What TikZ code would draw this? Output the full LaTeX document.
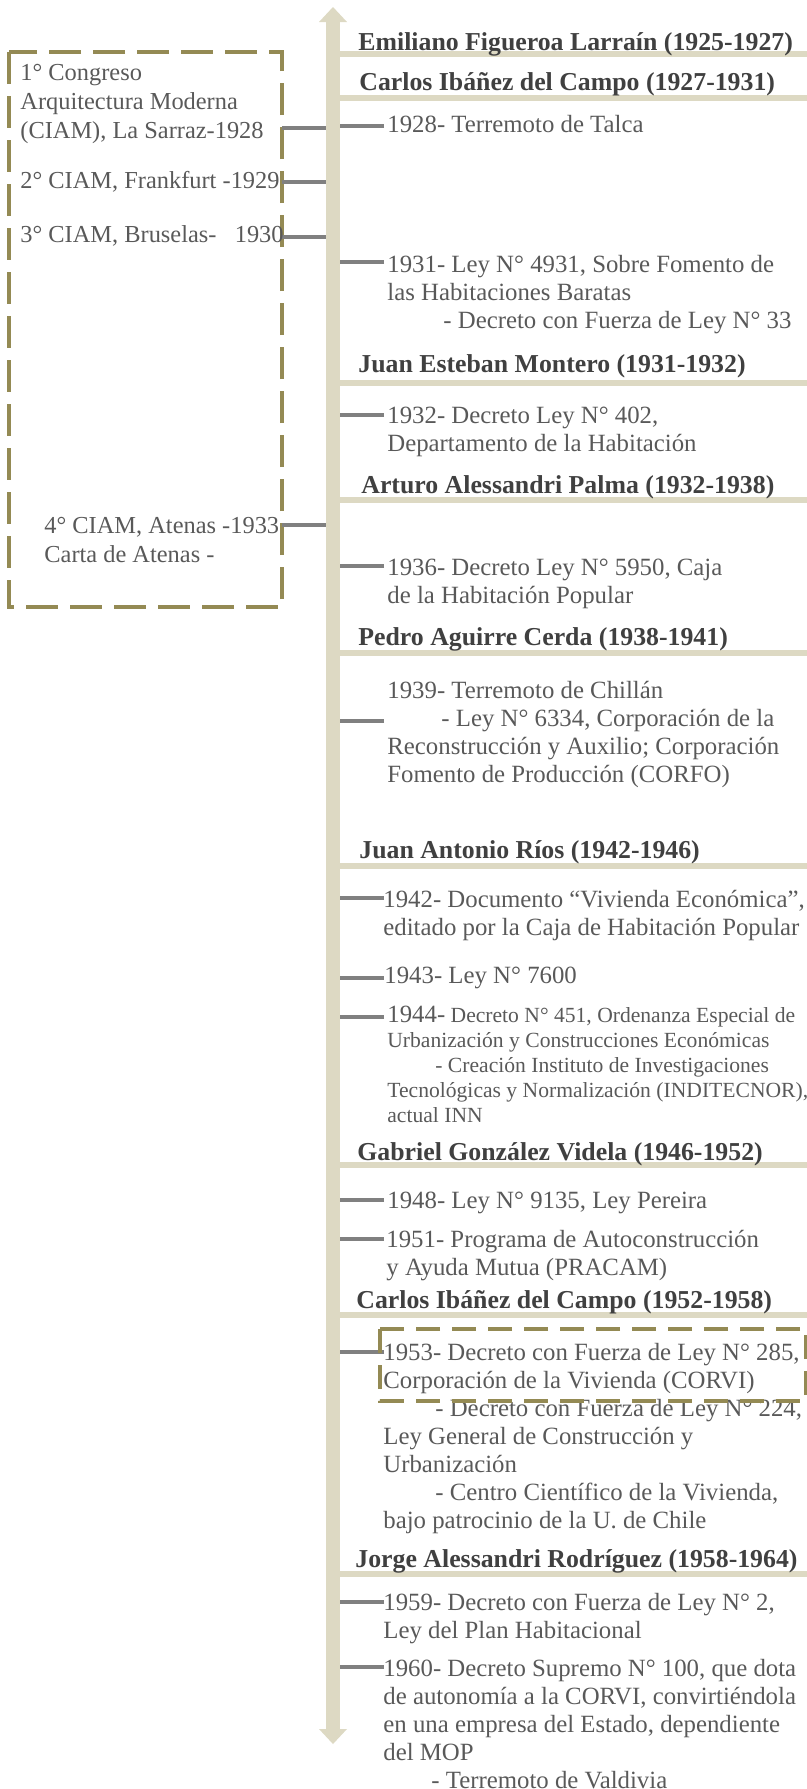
\documentclass[tikz,border=0pt]{standalone}
\usepackage{fontspec}
\setmainfont{Liberation Serif}
\usetikzlibrary{arrows.meta,positioning}
\definecolor{ejecolor}{HTML}{DDD9C3}
\definecolor{cajacolor}{HTML}{948A54}
\definecolor{marcacolor}{HTML}{808080}
\definecolor{textocolor}{HTML}{595959}
\definecolor{titulocolor}{HTML}{404040}
\tikzstyle{tronco} = [draw=ejecolor, line width=7pt, arrows={Triangle[width=14pt,length=7.5pt,line width=0pt]-Triangle[width=14pt,length=7.5pt,line width=0pt]}]
\tikzstyle{regla} = [draw=ejecolor, line width=2.75pt]
\tikzstyle{marca} = [draw=marcacolor, line width=2pt]
\tikzstyle{caja} = [draw=cajacolor, line width=2pt, dash pattern=on 16pt off 6pt]
\tikzstyle{presidente} = [anchor=base west, inner sep=0pt, text=titulocolor, font=\fontsize{12.9}{14}\selectfont\bfseries]
\tikzstyle{evento} = [anchor=base west, inner sep=0pt, align=left, text=textocolor, font=\fontsize{12.4}{14}\selectfont]
\tikzstyle{congreso} = [evento, font=\fontsize{12.2}{14.5}\selectfont]
\tikzstyle{chico} = [evento, font=\fontsize{10.8}{12.5}\selectfont]

\begin{document}
\begin{tikzpicture}[x=0.5pt,y=-0.5pt]
\useasboundingbox (0,0) rectangle (807,1789);
\coordinate (arriba) at (333,7);
\coordinate (abajo) at (333,1744);

\draw[caja] (9,52) rectangle (282,607);

\foreach \n/\y in {a/128,b/182,c/237,d/525}{
  \coordinate (l\n) at (282,\y);
  \draw[marca] (l\n) -- (l\n -| arriba);
}
\foreach \n/\y in {1928/126,1931/262,1932/415,1936/566,1939/721,1942/898,1943/978,1944/1017,1948/1200,1951/1239,1953/1352,1959/1602,1960/1667}{
  \coordinate (m\n) at (384,\y);
  \draw[marca] (m\n) -- (m\n -| arriba);
}
\foreach \n/\y in {1/54,2/98,3/383,4/500,5/653,6/866,7/1165,8/1315,9/1574}{
  \coordinate (r\n) at (807,\y);
  \draw[regla] (r\n -| arriba) -- (r\n);
}
\draw[tronco] (arriba) -- (abajo);

\node[congreso] (ciam1) at (20,138) {1° Congreso\\Arquitectura Moderna\\(CIAM), La Sarraz-1928};
\node[congreso] (ciam2) at (20,188) {2° CIAM, Frankfurt -1929};
\node[congreso] (ciam3) at (20,242) {3° CIAM, Bruselas-\ \ \ 1930};
\node[congreso] (ciam4) at (44,562) {4° CIAM, Atenas -1933\\Carta de Atenas -};

\node[presidente] (p1) at (358,50) {Emiliano Figueroa Larraín (1925-1927)};
\node[presidente] (p2) at (359,90) {Carlos Ibáñez del Campo (1927-1931)};
\node[presidente] (p3) at (358,372) {Juan Esteban Montero (1931-1932)};
\node[presidente] (p4) at (361,493) {Arturo Alessandri Palma (1932-1938)};
\node[presidente] (p5) at (358,645) {Pedro Aguirre Cerda (1938-1941)};
\node[presidente] (p6) at (359,858) {Juan Antonio Ríos (1942-1946)};
\node[presidente] (p7) at (357,1160) {Gabriel González Videla (1946-1952)};
\node[presidente] (p8) at (356,1308) {Carlos Ibáñez del Campo (1952-1958)};
\node[presidente] (p9) at (355,1567) {Jorge Alessandri Rodríguez (1958-1964)};

\node[evento] (e1928) at (387,132) {1928- Terremoto de Talca};
\node[evento] (e1931) at (387,328) {1931- Ley N° 4931, Sobre Fomento de\\las Habitaciones Baratas\\\hspace*{28pt}- Decreto con Fuerza de Ley N° 33};
\node[evento] (e1932) at (387,451) {1932- Decreto Ley N° 402,\\Departamento de la Habitación};
\node[evento] (e1936) at (387,603) {1936- Decreto Ley N° 5950, Caja\\de la Habitación Popular};
\node[evento] (e1939) at (387,782) {1939- Terremoto de Chillán\\\hspace*{27pt}- Ley N° 6334, Corporación de la\\Reconstrucción y Auxilio; Corporación\\Fomento de Producción (CORFO)};
\node[evento] (e1942) at (383,935) {1942- Documento “Vivienda Económica”,\\editado por la Caja de Habitación Popular};
\node[evento] (e1943) at (384,983) {1943- Ley N° 7600};
\node[chico] (e1944) at (387,1122) {{\fontsize{12.4}{12.5}\selectfont 1944-} Decreto N° 451, Ordenanza Especial de\\Urbanización y Construcciones Económicas\\\hspace*{24pt}- Creación Instituto de Investigaciones\\Tecnológicas y Normalización (INDITECNOR),\\actual INN};
\node[evento] (e1948) at (387,1208) {1948- Ley N° 9135, Ley Pereira};
\node[evento] (e1951) at (386,1275) {1951- Programa de Autoconstrucción\\y Ayuda Mutua (PRACAM)};
\node[evento] (e1953) at (383,1528) {1953- Decreto con Fuerza de Ley N° 285,\\Corporación de la Vivienda (CORVI)\\\hspace*{26pt}- Decreto con Fuerza de Ley N° 224,\\Ley General de Construcción y\\Urbanización\\\hspace*{26pt}- Centro Científico de la Vivienda,\\bajo patrocinio de la U. de Chile};
\node[evento] (e1959) at (383,1638) {1959- Decreto con Fuerza de Ley N° 2,\\Ley del Plan Habitacional};
\node[evento] (e1960) at (383,1788) {1960- Decreto Supremo N° 100, que dota\\de autonomía a la CORVI, convirtiéndola\\en una empresa del Estado, dependiente\\del MOP\\\hspace*{24pt}- Terremoto de Valdivia};

\draw[caja, dash pattern=on 12pt off 6pt] (380,1329) rectangle (806,1401);
\end{tikzpicture}
\end{document}
